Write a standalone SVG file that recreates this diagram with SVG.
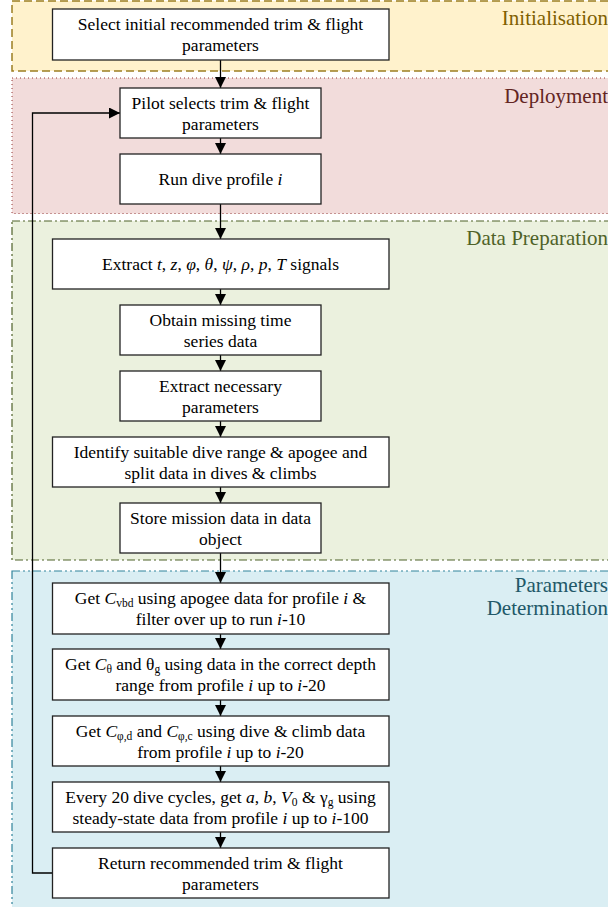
<svg xmlns="http://www.w3.org/2000/svg" width="608" height="907" viewBox="0 0 608 907">
<defs>
<marker id="ah" viewBox="0 0 11 11" refX="11" refY="5.5" markerWidth="11" markerHeight="11" markerUnits="userSpaceOnUse" orient="auto">
<path d="M0,0 L11,5.5 L0,11 z" fill="#000"/>
</marker>
<style>
.box{fill:#fff;stroke:#222;stroke-width:1.3}
.t{font-family:'Liberation Serif','DejaVu Serif',serif;font-size:17.5px;fill:#000;text-anchor:middle}
.lbl{font-family:'Liberation Serif','DejaVu Serif',serif;font-size:21px;text-anchor:end}
.i{font-style:italic}
.sub{font-size:11.5px}
.c{fill:none;stroke:#000;stroke-width:1.3;marker-end:url(#ah)}
</style>
</defs>
<g id="region-init">
<rect x="12" y="1" width="620" height="70" fill="#FFF2CC" stroke="#9C7F22" stroke-width="1.5" stroke-dasharray="8 4"/>
<text class="lbl" x="608" y="25" fill="#7F6000">Initialisation</text>
</g>
<g id="region-deploy">
<rect x="12" y="78" width="620" height="135.5" fill="#F2DCDB" stroke="#943634" stroke-width="1" stroke-dasharray="1 3"/>
<text class="lbl" x="608" y="103" fill="#632523">Deployment</text>
</g>
<g id="region-data">
<rect x="12" y="221" width="620" height="339" fill="#EBF1DE" stroke="#4F6228" stroke-width="1.2" stroke-dasharray="8 3 2 3"/>
<text class="lbl" x="608" y="245" fill="#4F6228">Data Preparation</text>
</g>
<g id="region-params">
<rect x="12" y="571" width="620" height="350" fill="#DAEEF3" stroke="#31849B" stroke-width="1.2" stroke-dasharray="8 3 2 3 2 3"/>
<text class="lbl" x="608" y="592" fill="#215868">Parameters</text>
<text class="lbl" x="608" y="615" fill="#215868">Determination</text>
</g>
<g id="connectors">
<line class="c" x1="220.5" y1="60" x2="220.5" y2="88"/>
<line class="c" x1="220.5" y1="138" x2="220.5" y2="154"/>
<line class="c" x1="220.5" y1="204" x2="220.5" y2="239"/>
<line class="c" x1="220.5" y1="289" x2="220.5" y2="305"/>
<line class="c" x1="220.5" y1="355" x2="220.5" y2="371"/>
<line class="c" x1="220.5" y1="421" x2="220.5" y2="437"/>
<line class="c" x1="220.5" y1="487" x2="220.5" y2="503"/>
<line class="c" x1="220.5" y1="553" x2="220.5" y2="583"/>
<line class="c" x1="220.5" y1="634" x2="220.5" y2="649"/>
<line class="c" x1="220.5" y1="700" x2="220.5" y2="716"/>
<line class="c" x1="220.5" y1="766" x2="220.5" y2="782"/>
<line class="c" x1="220.5" y1="832" x2="220.5" y2="848"/>
<path class="c" d="M52.5,873 H32.5 V113 H120"/>
</g>
<g id="n1">
<rect class="box" x="52.5" y="9" width="336.5" height="51"/>
<text class="t" x="220.5" y="30">Select initial recommended trim &amp; flight</text>
<text class="t" x="220.5" y="51">parameters</text>
</g>
<g id="n2">
<rect class="box" x="120" y="88" width="201" height="50"/>
<text class="t" x="220.5" y="108.5">Pilot selects trim &amp; flight</text>
<text class="t" x="220.5" y="129.5">parameters</text>
</g>
<g id="n3">
<rect class="box" x="120" y="154" width="201" height="50"/>
<text class="t" x="220.5" y="185">Run dive profile <tspan class="i">i</tspan></text>
</g>
<g id="n4">
<rect class="box" x="52.5" y="239" width="336.5" height="50"/>
<text class="t" x="220.5" y="270">Extract <tspan class="i">t</tspan>, <tspan class="i">z</tspan>, <tspan class="i">φ</tspan>, <tspan class="i">θ</tspan>, <tspan class="i">ψ</tspan>, <tspan class="i">ρ</tspan>, <tspan class="i">p</tspan>, <tspan class="i">T</tspan> signals</text>
</g>
<g id="n5">
<rect class="box" x="120" y="305" width="201" height="50"/>
<text class="t" x="220.5" y="325.5">Obtain missing time</text>
<text class="t" x="220.5" y="346.5">series data</text>
</g>
<g id="n6">
<rect class="box" x="120" y="371" width="201" height="50"/>
<text class="t" x="220.5" y="391.5">Extract necessary</text>
<text class="t" x="220.5" y="412.5">parameters</text>
</g>
<g id="n7">
<rect class="box" x="52.5" y="437" width="336.5" height="50"/>
<text class="t" x="220.5" y="457.5">Identify suitable dive range &amp; apogee and</text>
<text class="t" x="220.5" y="478.5">split data in dives &amp; climbs</text>
</g>
<g id="n8">
<rect class="box" x="120" y="503" width="201" height="50"/>
<text class="t" x="220.5" y="523.5">Store mission data in data</text>
<text class="t" x="220.5" y="544.5">object</text>
</g>
<g id="n9">
<rect class="box" x="52.5" y="583" width="336.5" height="51"/>
<text class="t" x="220.5" y="604">Get <tspan class="i">C</tspan><tspan class="sub" dy="3">vbd</tspan><tspan dy="-3"> using apogee data for profile </tspan><tspan class="i">i</tspan> &amp;</text>
<text class="t" x="220.5" y="625">filter over up to run <tspan class="i">i</tspan>-10</text>
</g>
<g id="n10">
<rect class="box" x="52.5" y="649" width="336.5" height="51"/>
<text class="t" x="220.5" y="670">Get <tspan class="i">C</tspan><tspan class="sub" dy="3">θ</tspan><tspan dy="-3"> and θ</tspan><tspan class="sub" dy="3">g</tspan><tspan dy="-3"> using data in the correct depth</tspan></text>
<text class="t" x="220.5" y="691">range from profile <tspan class="i">i</tspan> up to <tspan class="i">i</tspan>-20</text>
</g>
<g id="n11">
<rect class="box" x="52.5" y="716" width="336.5" height="50"/>
<text class="t" x="220.5" y="736.5">Get <tspan class="i">C</tspan><tspan class="sub" dy="3">φ,d</tspan><tspan dy="-3"> and </tspan><tspan class="i">C</tspan><tspan class="sub" dy="3">φ,c</tspan><tspan dy="-3"> using dive &amp; climb data</tspan></text>
<text class="t" x="220.5" y="757.5">from profile <tspan class="i">i</tspan> up to <tspan class="i">i</tspan>-20</text>
</g>
<g id="n12">
<rect class="box" x="52.5" y="782" width="336.5" height="50"/>
<text class="t" x="220.5" y="802.5">Every 20 dive cycles, get <tspan class="i">a</tspan>, <tspan class="i">b</tspan>, <tspan class="i">V</tspan><tspan class="sub" dy="3">0</tspan><tspan dy="-3"> &amp; γ</tspan><tspan class="sub" dy="3">g</tspan><tspan dy="-3"> using</tspan></text>
<text class="t" x="220.5" y="823.5">steady-state data from profile <tspan class="i">i</tspan> up to <tspan class="i">i</tspan>-100</text>
</g>
<g id="n13">
<rect class="box" x="52.5" y="848" width="336.5" height="50"/>
<text class="t" x="220.5" y="868.5">Return recommended trim &amp; flight</text>
<text class="t" x="220.5" y="889.5">parameters</text>
</g>
</svg>
